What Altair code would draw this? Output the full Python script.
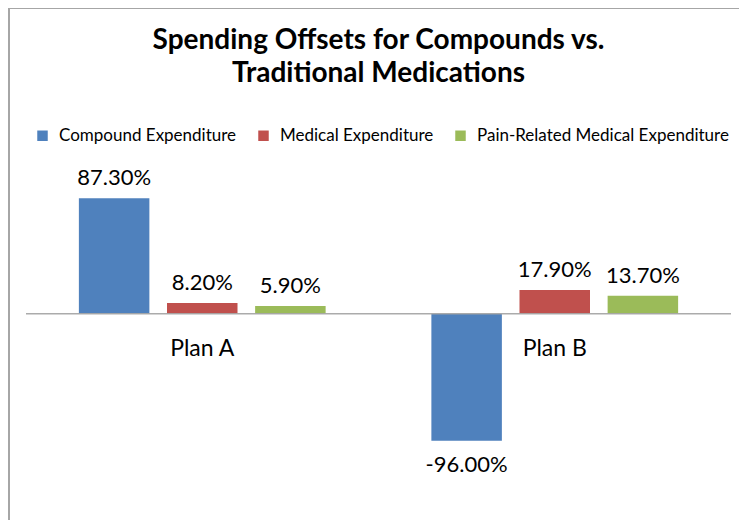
import altair as alt
import pandas as pd

plans = ["Plan A", "Plan B"]
series = ["Compound Expenditure", "Medical Expenditure", "Pain-Related Medical Expenditure"]
plan_a_values = [87.3, 8.2, 5.9]
plan_b_values = [-96.0, 17.9, 13.7]
colors = ["#4F81BD", "#C0504D", "#9BBB59"]
title_lines = ["Spending Offsets for Compounds vs.", "Traditional Medications"]

rows = []
for plan, vals in zip(plans, [plan_a_values, plan_b_values]):
    for s, v in zip(series, vals):
        rows.append({"plan": plan, "series": s, "key": f"{plan} | {s}",
                     "value": v, "label": f"{v:.2f}%"})
df = pd.DataFrame(rows)

# category order on x: the three bars of each plan, with an empty slot between plans
x_domain = [f"{plans[0]} | {s}" for s in series] + ["gap"] + [f"{plans[1]} | {s}" for s in series]
plan_df = pd.DataFrame({"plan": plans, "key": [f"{p} | {series[1]}" for p in plans], "zero": [0, 0]})
frame_df = pd.DataFrame({"frame": ["chart"]})

FONT = "Lato"
TXT = "#000000"

x = alt.X("key:N", axis=None,
          scale=alt.Scale(domain=x_domain, paddingInner=0.2, paddingOuter=0.6))
y_scale = alt.Scale(domain=[-140, 120], nice=False, zero=False)
y = alt.Y("value:Q", axis=None, scale=y_scale)

# outer chart frame (only its top and left edges fall inside the page, as in the reference)
frame = alt.Chart(frame_df).mark_rect(
    fill=None, fillOpacity=0, stroke="#A6A6A6", strokeWidth=2
).encode(
    x=alt.value(-17), x2=alt.value(760), y=alt.value(-147), y2=alt.value(400),
    detail="frame:N",
)

bars = alt.Chart(df).mark_bar().encode(
    x=x, y=y,
    color=alt.Color(
        "series:N", sort=series,
        scale=alt.Scale(domain=series, range=colors),
        legend=alt.Legend(
            orient="none", legendX=8, legendY=-28, direction="horizontal",
            title=None, symbolType="square", symbolSize=110, symbolStrokeWidth=0,
            labelFont=FONT, labelFontSize=17, labelColor=TXT, labelOffset=8,
            labelLimit=0, columnPadding=18, padding=0,
        ),
    ),
)

zero_line = alt.Chart(plan_df).mark_rule(
    color="#A6A6A6", strokeWidth=1
).encode(y=alt.Y("zero:Q", axis=None, scale=y_scale))

pos_labels = alt.Chart(df).transform_filter("datum.value >= 0").mark_text(
    dy=-13, baseline="alphabetic", font=FONT, fontSize=22, color=TXT
).encode(x=x, y=y, text="label:N")

neg_labels = alt.Chart(df).transform_filter("datum.value < 0").mark_text(
    dy=31, baseline="alphabetic", font=FONT, fontSize=22, color=TXT
).encode(x=x, y=y, text="label:N")

plan_labels = alt.Chart(plan_df).mark_text(
    dy=42, baseline="alphabetic", font=FONT, fontSize=23, color=TXT
).encode(x=x, y=alt.Y("zero:Q", axis=None, scale=y_scale), text="plan:N")

chart = alt.layer(
    frame, bars, zero_line, pos_labels, neg_labels, plan_labels
).properties(
    width=705,
    height=344,
    autosize="none",
    padding={"left": 18, "top": 147, "right": 8, "bottom": 21},
    title=alt.Title(
        title_lines, font=FONT, fontSize=28, fontWeight="bold", color=TXT,
        anchor="middle", frame="group", baseline="bottom", lineHeight=33,
        offset=-109,
    ),
).configure_view(stroke=None)

chart.save("out.html", embed_options={"renderer": "svg", "actions": False})
